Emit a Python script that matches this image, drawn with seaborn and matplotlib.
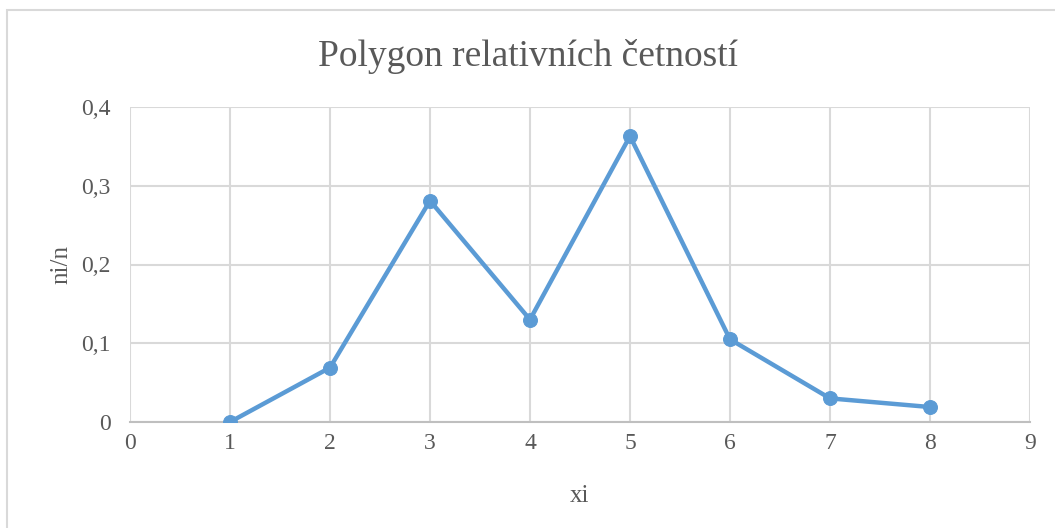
import matplotlib
matplotlib.use("Agg")
import matplotlib.pyplot as plt
from matplotlib.patches import Rectangle
from matplotlib.ticker import FuncFormatter, MultipleLocator
import seaborn as sns
import pandas as pd

# Relative frequencies ni/n for each value xi
xi = [1, 2, 3, 4, 5, 6, 7, 8]
rel_freq = [0.0, 0.069, 0.281, 0.130, 0.363, 0.105, 0.030, 0.019]

title = "Polygon relativních četností"
x_label = "xi"
y_label = "ni/n"

df = pd.DataFrame({"xi": xi, "ni/n": rel_freq})

sns.set_style("white")
plt.rcParams["font.family"] = ["Liberation Serif", "DejaVu Serif"]

fig = plt.figure(figsize=(10.55, 5.28), dpi=100)
ax = fig.add_axes([130 / 1055, 1 - 422 / 528, 900 / 1055, 315 / 528])

line_col = "#5B9BD5"
sns.lineplot(data=df, x="xi", y="ni/n", ax=ax, color=line_col, linewidth=3.2,
             marker="o", markersize=10, markeredgecolor=line_col, zorder=3)

ax.set_xlim(0, 9)
ax.set_ylim(0, 0.4)
ax.xaxis.set_major_locator(MultipleLocator(1))
ax.yaxis.set_major_locator(MultipleLocator(0.1))
ax.yaxis.set_major_formatter(FuncFormatter(
    lambda v, _: "0" if abs(v) < 1e-9 else f"{v:.1f}".replace(".", ",")))

grid_col = "#D9D9D9"
ax.grid(True, color=grid_col, linewidth=1.5)
ax.set_axisbelow(True)
for side in ["top", "right", "left"]:
    ax.spines[side].set_visible(False)
ax.spines["bottom"].set_color("#BFBFBF")
ax.spines["bottom"].set_linewidth(1.5)
ax.tick_params(axis="both", length=0, labelsize=17, labelcolor="#595959")
ax.tick_params(axis="x", pad=8)
ax.tick_params(axis="y", pad=14)

ax.set_xlabel(x_label, fontsize=18, color="#595959", labelpad=22)
ax.set_ylabel(y_label, fontsize=18, color="#595959", labelpad=6)
fig.suptitle(title, fontsize=27, color="#595959", y=1 - 56 / 528, va="center")

# Chart frame
fig.patches.append(Rectangle((7 / 1055, -0.5), 2.0, 1 - 10 / 528 + 0.5,
                             transform=fig.transFigure, fill=False,
                             edgecolor="#D9D9D9", linewidth=1.5))

fig.savefig("out.png", dpi=100, facecolor="white")
